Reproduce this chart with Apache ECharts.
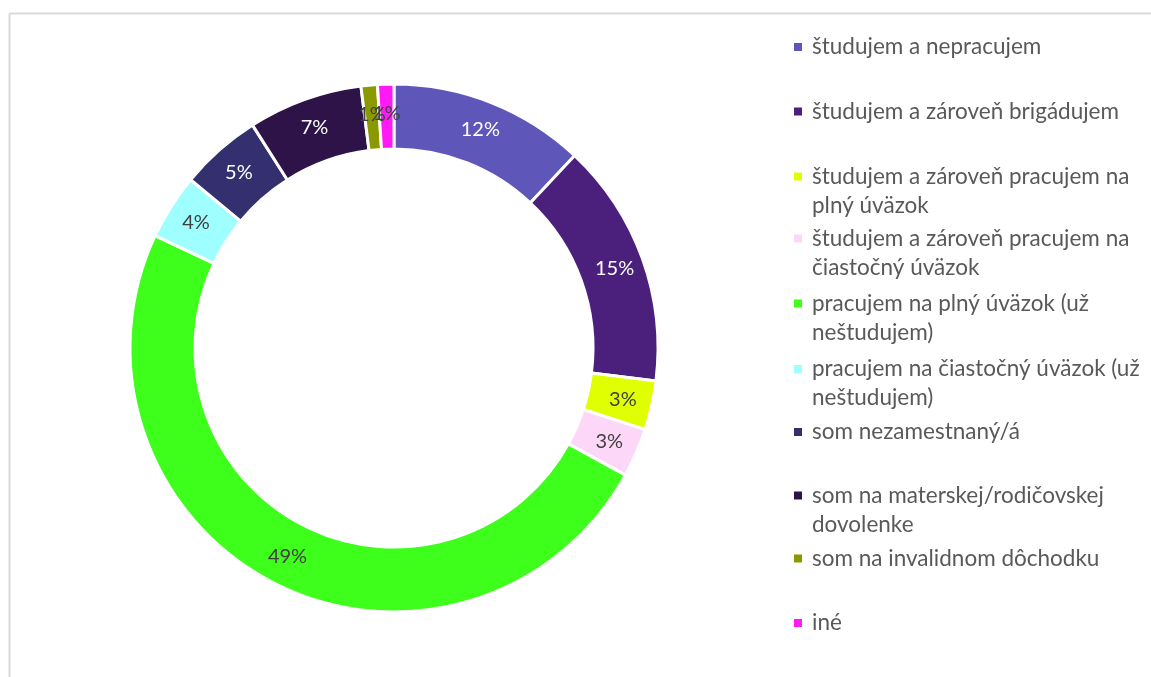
<!DOCTYPE html>
<html>
<head>
<meta charset="utf-8">
<script src="https://cdn.jsdelivr.net/npm/echarts@6/dist/echarts.min.js"></script>
<style>
html,body{margin:0;padding:0;background:#fff;}
#chart{width:1151px;height:677px;}
</style>
</head>
<body>
<div id="chart"></div>
<script>
const categories = [
  'študujem a nepracujem',
  'študujem a zároveň brigádujem',
  'študujem a zároveň pracujem na\nplný úväzok',
  'študujem a zároveň pracujem na\nčiastočný úväzok',
  'pracujem na plný úväzok (už\nneštudujem)',
  'pracujem na čiastočný úväzok (už\nneštudujem)',
  'som nezamestnaný/á',
  'som na materskej/rodičovskej\ndovolenke',
  'som na invalidnom dôchodku',
  'iné'
];
const values = [12, 15, 3, 3, 49, 4, 5, 7, 1, 1];
const colors = ['#5F56B9', '#4B1F7C', '#E0FF00', '#FDD7F7', '#3DFF1B', '#9FFFFF', '#342F6E', '#2E1348', '#8A9900', '#FF1AF5'];
const labelColors = ['#ffffff', '#ffffff', '#404040', '#404040', '#404040', '#404040', '#ffffff', '#ffffff', '#404040', '#404040'];

// layout: vertical centre of each legend marker
const legendCenters = [47, 111.5, 176.5, 238.5, 303.5, 369, 432, 495.5, 558.5, 623];
const FONT = 'Lato, "Open Sans", sans-serif';
const LH = 29;

const legends = categories.map((name, i) => {
  const twoLine = name.indexOf('\n') >= 0;
  return {
    left: 794,
    top: legendCenters[i] - 4 - (LH / 2 - 4),
    orient: 'vertical',
    itemWidth: 8,
    itemHeight: twoLine ? LH + 8 : 8,
    itemGap: 0,
    padding: 0,
    icon: twoLine ? 'path://M0,0L8,0L8,8L0,8ZM0,' + (LH + 8) : 'rect',
    itemStyle: {borderWidth: 0},
    selectedMode: false,
    data: [name],
    textStyle: {
      fontFamily: FONT,
      fontSize: 22.5,
      color: '#595959',
      lineHeight: LH,
      padding: [0, 0, 0, 5]
    }
  };
});

const chart = echarts.init(document.getElementById('chart'), null, {renderer: 'canvas'});
chart.setOption({
  animation: false,
  backgroundColor: '#ffffff',
  graphic: [
    {type: 'line', shape: {x1: 9.5, y1: 13.5, x2: 1151, y2: 13.5}, style: {stroke: '#d9d9d9', lineWidth: 2}},
    {type: 'line', shape: {x1: 9.5, y1: 13.5, x2: 9.5, y2: 677}, style: {stroke: '#d9d9d9', lineWidth: 2}}
  ],
  legend: legends,
  series: [{
    type: 'pie',
    center: [394, 348],
    radius: [199, 264],
    startAngle: 90,
    clockwise: true,
    avoidLabelOverlap: false,
    minShowLabelAngle: 0,
    labelLayout: {hideOverlap: false},
    itemStyle: {borderColor: '#ffffff', borderWidth: 3},
    label: {
      show: true,
      position: 'inside',
      formatter: '{c}%',
      fontFamily: FONT,
      fontSize: 20
    },
    labelLine: {show: false},
    emphasis: {disabled: true},
    data: categories.map((name, i) => ({
      name: name,
      value: values[i],
      itemStyle: {color: colors[i]},
      label: {color: labelColors[i]}
    }))
  }]
});
</script>
</body>
</html>
